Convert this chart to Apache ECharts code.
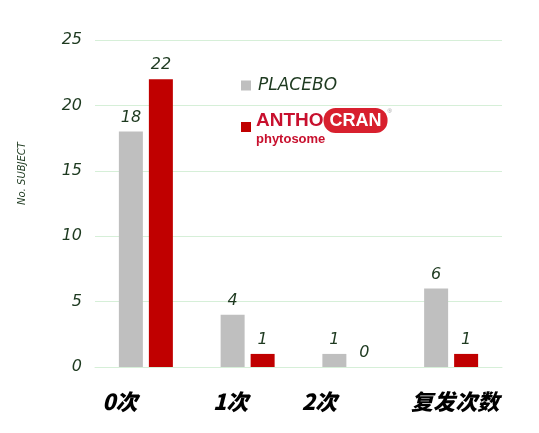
<!DOCTYPE html>
<html>
<head>
<meta charset="utf-8">
<script src="https://cdn.jsdelivr.net/npm/echarts@6/dist/echarts.min.js"></script>
<style>
  html, body { margin: 0; padding: 0; background: #fff; }
  #chart { width: 539px; height: 433px; }
</style>
</head>
<body>
<div id="chart"></div>
<script>
// data
const categories = ['0次', '1次', '2次', '复发次数'];
const placebo = [18, 4, 1, 6];
const anthocran = [22, 1, 0, 1];
const yTicks = [0, 5, 10, 15, 20, 25];

// category labels in the reference sit a little off their bands
const labelShift = { '0次': 'l0', '1次': 'l1', '2次': 'l2', '复发次数': 'l3' };

const hand = { fontFamily: 'DejaVu Sans', fontStyle: 'italic', color: '#1e3a20' };
const catBase = { fontFamily: 'Noto Sans CJK SC', fontStyle: 'italic', fontWeight: 900, fontSize: 22, color: '#000' };

const chart = echarts.init(document.getElementById('chart'));
chart.setOption({
  backgroundColor: '#fff',
  animation: false,
  grid: { left: 95, right: 37, top: 40, bottom: 66 },
  legend: {
    orient: 'vertical',
    left: 236,
    top: 72,
    itemGap: 14,
    itemWidth: 10,
    itemHeight: 10,
    icon: 'rect',
    data: ['PLACEBO', 'ANTHOCRAN'],
    formatter: function (name) {
      if (name === 'PLACEBO') return '{pl|PLACEBO}';
      return '{a|ANTHO}{c|CRAN}{r|®}\n{p|phytosome}';
    },
    textStyle: {
      rich: {
        pl: Object.assign({ fontSize: 17, padding: [0, 0, 0, 2] }, hand),
        a: { fontFamily: 'Liberation Sans', fontWeight: 'bold', fontSize: 19, color: '#c8102e' },
        c: { fontFamily: 'Liberation Sans', fontWeight: 'bold', fontSize: 18, color: '#fff',
             backgroundColor: '#d8202e', borderRadius: 12, padding: [4, 6, 3, 6] },
        r: { fontSize: 6, color: '#999', verticalAlign: 'top' },
        p: { fontFamily: 'Liberation Sans', fontWeight: 'bold', fontSize: 13, color: '#c8102e', lineHeight: 13 }
      }
    }
  },
  xAxis: {
    type: 'category',
    data: categories,
    axisLine: { lineStyle: { color: '#d6efd8' } },
    axisTick: { show: false },
    axisLabel: {
      margin: 24,
      formatter: function (v) { return '{' + labelShift[v] + '|' + v + '}'; },
      rich: {
        l0: Object.assign({ padding: [0, 52, 0, 0] }, catBase),
        l1: Object.assign({ padding: [0, 34, 0, 0] }, catBase),
        l2: Object.assign({ padding: [0, 60, 0, 0] }, catBase),
        l3: Object.assign({ padding: [0, 0, 0, 8] }, catBase)
      }
    }
  },
  yAxis: {
    type: 'value',
    min: yTicks[0],
    max: yTicks[yTicks.length - 1],
    interval: 5,
    name: 'No. SUBJECT',
    nameLocation: 'middle',
    nameGap: 68,
    nameTextStyle: Object.assign({}, hand, { fontSize: 10, padding: [0, 0, 0, 60] }),
    axisLine: { show: false },
    axisTick: { show: false },
    splitLine: { lineStyle: { color: '#d6efd8' } },
    axisLabel: Object.assign({ fontSize: 16, margin: 13 }, hand)
  },
  series: [
    {
      name: 'PLACEBO',
      type: 'bar',
      data: placebo,
      barWidth: 24,
      barGap: '25%',
      itemStyle: { color: '#bfbfbf' },
      label: Object.assign({ show: true, position: 'top', distance: 6, fontSize: 16 }, hand)
    },
    {
      name: 'ANTHOCRAN',
      type: 'bar',
      data: anthocran,
      barWidth: 24,
      itemStyle: { color: '#c00000' },
      label: Object.assign({ show: true, position: 'top', distance: 6, fontSize: 16 }, hand)
    }
  ]
});
</script>
</body>
</html>
